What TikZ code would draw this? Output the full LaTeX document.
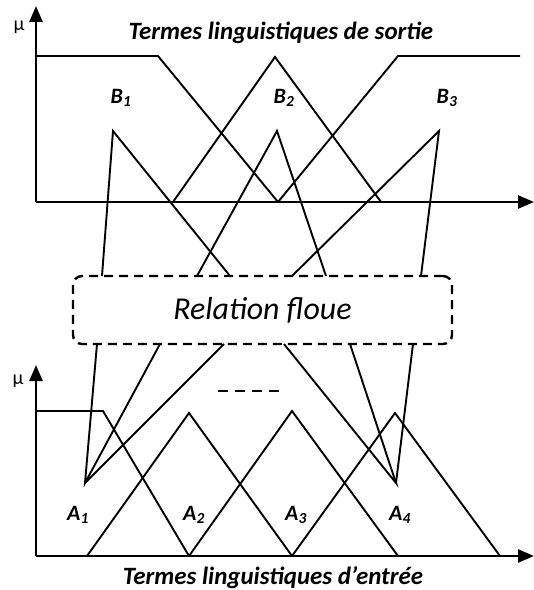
\documentclass[tikz,border=0pt]{standalone}
\usepackage{fontspec}
\setmainfont{Carlito}
\usetikzlibrary{arrows.meta, positioning, calc}
\tikzset{
    axis/.style={line width=2.5bp, -{Triangle[length=16bp,width=13bp]}},
    mf/.style={line width=1.9bp},
    link/.style={line width=1.9bp},
    term/.style={inner sep=0pt, font=\fontsize{22}{22}\selectfont\bfseries\itshape},
    heading/.style={inner sep=0pt, anchor=base, font=\fontsize{25}{25}\selectfont\bfseries\itshape},
    mu/.style={inner sep=0pt, font=\fontsize{20}{20}\selectfont},
    relbox/.style={draw, rounded corners=9bp, dash pattern=on 9bp off 6bp, line width=2.4bp, minimum width=379bp, minimum height=68bp, font=\fontsize{32}{32}\selectfont\itshape}
}

\begin{document}
\begin{tikzpicture}[x=1bp, y=-1bp]
        \useasboundingbox (0,0) rectangle (534,590);

        % Output terms
        \draw[axis] (36,202) -- (36,6);
        \draw[axis] (36,202) -- (534,202);
        \node (mutop) [mu] at (19,27) {μ};
        \node (outtitle) [heading] at (281,40) {Termes linguistiques de sortie};
        \draw[mf] (36,56) -- (158,56) -- (278,202);
        \draw[mf] (173,202) -- (275,57) -- (381,202);
        \draw[mf] (278,202) -- (398,56) -- (520,56);
        \node (lb1) [term] at (121,98) {B\textsubscript{1}};
        \node (lb2) [term] at (284,98) {B\textsubscript{2}};
        \node (lb3) [term] at (447,98) {B\textsubscript{3}};

        % Fuzzy relation
        \node (rel) [relbox] at (262.5,310) {Relation floue};
        \coordinate (b1) at (113,131);
        \coordinate (b2) at (277,131);
        \coordinate (b3) at (439,131);
        \coordinate (t1) at (102,276);
        \coordinate (t2) at (197,276);
        \coordinate (t3) at (230,276);
        \coordinate (t4) at (292,276);
        \coordinate (t5) at (326,276);
        \coordinate (t6) at (421,276);
        \draw[link] (t1) -- (b1) -- (t3);
        \draw[link] (t2) -- (b2) -- (t5);
        \draw[link] (t4) -- (b3) -- (t6);

        \coordinate (a1) at (85,483);
        \coordinate (a4) at (396,483);
        \coordinate (d1) at (97,344);
        \coordinate (d2) at (160,344);
        \coordinate (d3) at (224,344);
        \coordinate (d4) at (284,344);
        \coordinate (d5) at (350,344);
        \coordinate (d6) at (413,344);
        \draw[link] (d1) -- (a1) -- (d2);
        \draw[link] (d3) -- (a1);
        \draw[link] (d4) -- (a4) -- (d5);
        \draw[link] (d6) -- (a4);

        % Input terms
        \draw[axis] (36,556) -- (36,365);
        \draw[axis] (36,556) -- (534,556);
        \node (mubot) [mu] at (18,381) {μ};
        \node (intitle) [heading] at (273,584) {Termes linguistiques d’entrée};
        \draw[mf] (36,411) -- (103,411) -- (189,556);
        \draw[mf] (87,556) -- (189,413) -- (292,556);
        \draw[mf] (189,556) -- (292,411) -- (398,556);
        \draw[mf] (292,556) -- (395,413) -- (500,556);
        \draw[line width=2.5bp, dash pattern=on 10bp off 7bp] (218,391) -- (280,391);
        \node (la1) [term] at (78,515) {A\textsubscript{1}};
        \node (la2) [term] at (194,515) {A\textsubscript{2}};
        \node (la3) [term] at (296,515) {A\textsubscript{3}};
        \node (la4) [term] at (400,515) {A\textsubscript{4}};
    \end{tikzpicture}
\end{document}
